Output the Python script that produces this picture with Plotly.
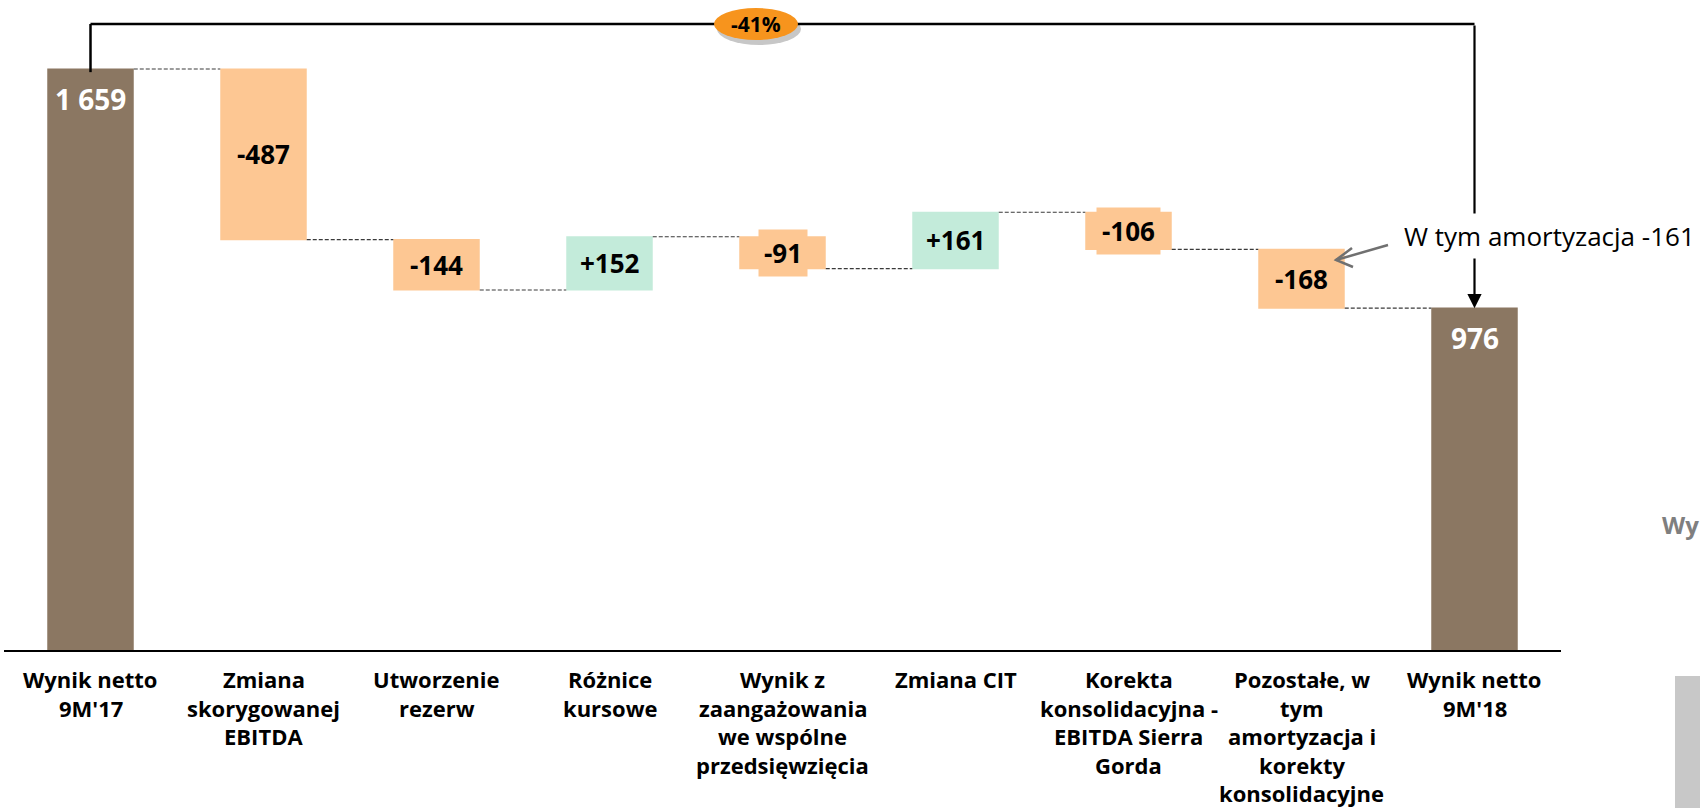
import plotly.graph_objects as go

# ---------------- data ----------------
categories = [
    "Wynik netto<br>9M'17",
    "Zmiana<br>skorygowanej<br>EBITDA",
    "Utworzenie<br>rezerw",
    "Różnice<br>kursowe",
    "Wynik z<br>zaangażowania<br>we wspólne<br>przedsięwzięcia",
    "Zmiana CIT",
    "Korekta<br>konsolidacyjna -<br>EBITDA Sierra<br>Gorda",
    "Pozostałe, w<br>tym<br>amortyzacja i<br>korekty<br>konsolidacyjne",
    "Wynik netto<br>9M'18",
]
values = [1659, -487, -144, 152, -91, 161, -106, -168, 976]
measures = ["absolute", "relative", "relative", "relative", "relative",
            "relative", "relative", "relative", "absolute"]
value_labels = ["1 659", "-487", "-144", "+152", "-91", "+161", "-106", "-168", "976"]
change_label = "-41%"
note_label = "W tym amortyzacja -161"
side_label = "Wy"

# ---------------- styles ----------------
C_TOTAL = "#8B7762"
C_DEC = "#FDC793"
C_INC = "#C3EBDA"
C_OVAL = "#F7941D"
FONT = "Open Sans"

W, H = 1700, 808
ML, MR, MT, MB = 4, 139, 0, 158
PW, PH = W - ML - MR, H - MT - MB
YMAX = 1856
N = len(values)


def px_x(px):
    return (px - ML) / PW * N - 0.5


def px_y(py):
    return (PH - (py - MT)) / PH * YMAX


# running levels
starts, ends = [], []
level = 0
for v, m in zip(values, measures):
    if m == "absolute":
        s, e = 0, v
    else:
        s, e = level, level + v
    starts.append(s)
    ends.append(e)
    level = e

xs = list(range(N))

fig = go.Figure()
fig.add_trace(go.Waterfall(
    x=xs, y=values, measure=measures,
    totals=dict(marker=dict(color=C_TOTAL, line=dict(width=0))),
    increasing=dict(marker=dict(color=C_INC, line=dict(width=0))),
    decreasing=dict(marker=dict(color=C_DEC, line=dict(width=0))),
    connector=dict(mode="between", line=dict(color="#3a3a3a", width=1.2, dash="4px,2px")),
    hoverinfo="skip", showlegend=False,
))

annotations = []
shapes = []

# category labels (one annotation per line, slide-like line spacing)
LINE_GAP = 28.6
FIRST_LINE = 29
for i, cat in enumerate(categories):
    for j, line in enumerate(cat.split("<br>")):
        annotations.append(dict(
            x=i, y=0, xref="x", yref="y", text=line, showarrow=False,
            yanchor="middle", yshift=-(FIRST_LINE + j * LINE_GAP),
            font=dict(family=FONT, size=22, color="black", weight="bold")))

# value labels
for i, (lab, m) in enumerate(zip(value_labels, measures)):
    if m == "absolute":
        annotations.append(dict(
            x=i, y=ends[i], xref="x", yref="y", text=lab, showarrow=False,
            yanchor="top", yshift=-9,
            font=dict(family=FONT, size=28, color="white", weight="bold")))
    else:
        col = C_INC if values[i] > 0 else C_DEC
        annotations.append(dict(
            x=i, y=(starts[i] + ends[i]) / 2, xref="x", yref="y", text=lab,
            showarrow=False, yanchor="middle", bgcolor=col, borderpad=5,
            font=dict(family=FONT, size=26, color="black", weight="bold")))

# bracket
bracket_y = px_y(24)
shapes.append(dict(type="line", xref="x", yref="y", x0=0, x1=0,
                   y0=ends[0] - 9, y1=bracket_y, line=dict(color="black", width=2.5)))
shapes.append(dict(type="line", xref="x", yref="y", x0=0, x1=N - 1,
                   y0=bracket_y, y1=bracket_y, line=dict(color="black", width=2.5)))
annotations.append(dict(
    x=N - 1, y=ends[-1], xref="x", yref="y", axref="x", ayref="y",
    ax=N - 1, ay=bracket_y, text="", showarrow=True, arrowhead=2,
    arrowsize=1.3, arrowwidth=2.2, arrowcolor="black", standoff=0))

# -41% oval with shadow
cx = px_x(756)
hw = 42 / PW * N
hh = 16 / PH * YMAX
dx = 3 / PW * N
dy = 5 / PH * YMAX
shapes.append(dict(type="circle", xref="x", yref="y",
                   x0=cx - hw + dx, x1=cx + hw + dx, y0=bracket_y - hh - dy, y1=bracket_y + hh - dy,
                   fillcolor="rgba(0,0,0,0.22)", line=dict(width=0)))
shapes.append(dict(type="circle", xref="x", yref="y",
                   x0=cx - hw, x1=cx + hw, y0=bracket_y - hh, y1=bracket_y + hh,
                   fillcolor=C_OVAL, line=dict(width=0)))
annotations.append(dict(x=cx, y=bracket_y, xref="x", yref="y", text=change_label,
                        showarrow=False,
                        font=dict(family=FONT, size=21, color="black", weight="bold")))

# note with gray open arrow
hx, hy = px_x(1336), px_y(260)
tx, ty = px_x(1388), px_y(245)
u1x, u1y = px_x(1352), px_y(248)
l1x, l1y = px_x(1353), px_y(267)
shapes.append(dict(type="line", xref="x", yref="y", x0=tx, y0=ty, x1=hx, y1=hy,
                   line=dict(color="#707070", width=2.5)))
shapes.append(dict(type="path", xref="x", yref="y",
                   path=f"M {u1x},{u1y} L {hx},{hy} L {l1x},{l1y}",
                   line=dict(color="#707070", width=2.5)))
annotations.append(dict(x=px_x(1399), y=px_y(236), xref="x", yref="y",
                        text=note_label, showarrow=False, xanchor="left", yanchor="middle",
                        bgcolor="white", borderpad=4,
                        font=dict(family=FONT, size=26, color="black")))

# cut-off slide artefacts on the right
annotations.append(dict(x=(1660 - ML) / PW, y=(PH - 524) / PH, xref="paper", yref="paper",
                        text=side_label, showarrow=False, xanchor="left", yanchor="middle",
                        font=dict(family=FONT, size=24, color="#7F7F7F", weight="bold")))
shapes.append(dict(type="rect", xref="paper", yref="paper",
                   x0=(1675 - ML) / PW, x1=(1700 - ML) / PW,
                   y0=(PH - 676) / PH, y1=(PH - 808) / PH,
                   fillcolor="#C8C8C8", line=dict(width=0), layer="below"))

fig.update_layout(
    width=W, height=H,
    margin=dict(l=ML, r=MR, t=MT, b=MB, autoexpand=False),
    paper_bgcolor="white", plot_bgcolor="white",
    waterfallgap=0.5, showlegend=False,
    xaxis=dict(range=[-0.5, N - 0.5], tickmode="array", tickvals=xs, ticktext=categories,
               showticklabels=False,
               showline=True, linecolor="black", linewidth=2, showgrid=False,
               zeroline=False, ticks="", automargin=False, fixedrange=True),
    yaxis=dict(range=[0, YMAX], visible=False, fixedrange=True, automargin=False),
    annotations=annotations, shapes=shapes,
)

fig.write_html(
    "out.html",
    config={"displayModeBar": False, "staticPlot": True},
    post_script="document.body.style.margin='0';document.body.style.overflow='hidden';",
)
